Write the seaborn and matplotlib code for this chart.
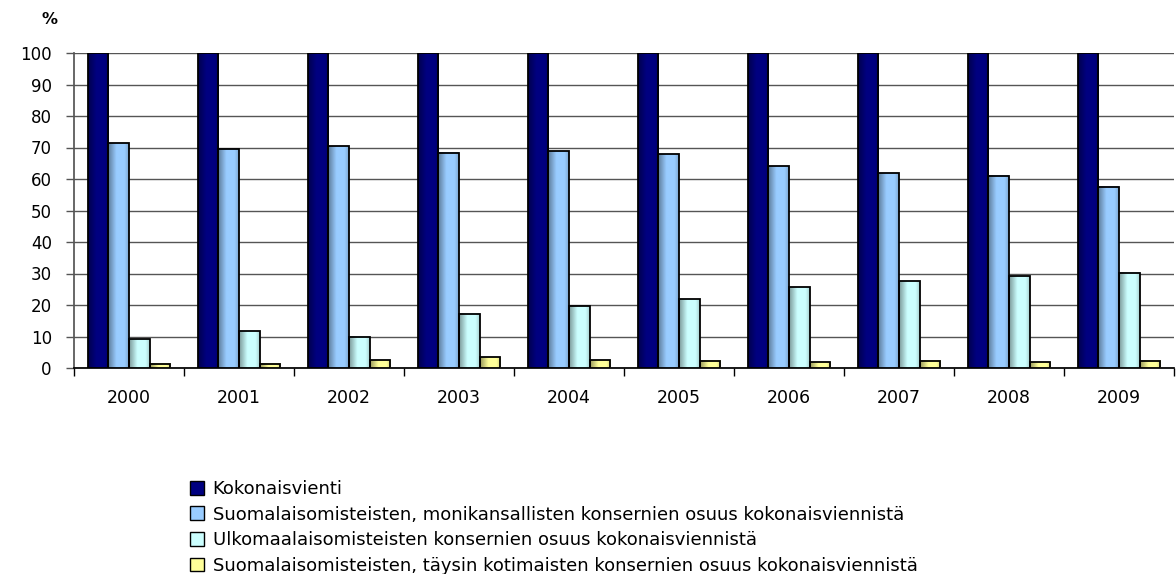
import numpy as np
import pandas as pd
import seaborn as sns
import matplotlib.pyplot as plt
from matplotlib.ticker import FixedLocator
from matplotlib.patches import Patch

years = ["2000", "2001", "2002", "2003", "2004", "2005", "2006", "2007", "2008", "2009"]
series_names = [
    "Kokonaisvienti",
    "Suomalaisomisteisten, monikansallisten konsernien osuus kokonaisviennistä",
    "Ulkomaalaisomisteisten konsernien osuus kokonaisviennistä",
    "Suomalaisomisteisten, täysin kotimaisten konsernien osuus kokonaisviennistä",
]
total = [100, 100, 100, 100, 100, 100, 100, 100, 100, 100]
multinational = [71.3, 69.4, 70.4, 68.4, 68.8, 67.8, 64.0, 61.9, 61.1, 57.5]
foreign = [9.2, 11.6, 10.0, 17.3, 19.6, 21.9, 25.7, 27.6, 29.1, 30.3]
domestic = [1.4, 1.4, 2.4, 3.4, 2.4, 2.3, 1.8, 2.3, 1.8, 2.3]
colors = ["#000080", "#99CCFF", "#CCFFFF", "#FFFF99"]

rows = []
for name, vals in zip(series_names, [total, multinational, foreign, domestic]):
    for y, v in zip(years, vals):
        rows.append({"year": y, "series": name, "value": v})
df = pd.DataFrame(rows)

sns.set_theme(style="white")
plt.rcParams["font.family"] = ["DejaVu Sans"]
plt.rcParams["text.color"] = "black"

fig = plt.figure(figsize=(11.76, 5.74), dpi=100)
ax = fig.add_axes([74 / 1176, (574 - 368) / 574, 1100 / 1176, 315 / 574])

sns.barplot(
    data=df, x="year", y="value", hue="series", order=years, hue_order=series_names,
    palette=colors, width=0.75, saturation=1, edgecolor="black", linewidth=1.3,
    legend=False, ax=ax, zorder=3,
)

# excel-style shading across each bar
shade_x = np.linspace(0, 1, 48)
shade = np.interp(shade_x, [0, 0.4, 0.8, 1], [0.6, 1.0, 1.0, 0.82])
for p in list(ax.patches):
    rgb = np.array(p.get_facecolor()[:3])
    img = np.clip(shade[None, :, None] * rgb[None, None, :], 0, 1)
    x0, w, h = p.get_x(), p.get_width(), p.get_height()
    ax.imshow(img, extent=[x0, x0 + w, 0, h], aspect="auto", zorder=2.9,
              interpolation="bilinear")
    p.set_facecolor("none")

ax.set_ylim(0, 100)
ax.set_xlim(-0.5, len(years) - 0.5)
ax.set_yticks(np.arange(0, 101, 10))
ax.yaxis.grid(True, color="#555555", linewidth=1.0, zorder=0)
ax.xaxis.grid(False)
ax.set_xlabel("")
ax.set_ylabel("")
for s in ["top", "right"]:
    ax.spines[s].set_visible(False)
ax.spines["left"].set_color("#555555")
ax.spines["bottom"].set_color("black")
ax.tick_params(axis="y", which="major", length=6, width=1, color="#555555",
               direction="out", left=True, labelsize=12, pad=10, labelcolor="black")
ax.tick_params(axis="x", which="major", length=0, labelsize=12.5, pad=15, labelcolor="black")
ax.xaxis.set_minor_locator(FixedLocator(np.arange(-0.5, len(years), 1.0)))
ax.tick_params(axis="x", which="minor", length=6, width=1, color="black", direction="out", bottom=True)

fig.text(50 / 1176, 1 - 19 / 574, "%", fontsize=11.5, fontweight="bold", ha="center", va="center")

handles = [Patch(facecolor=c, edgecolor="black", linewidth=1) for c in colors]
leg = fig.legend(
    handles, series_names, loc="upper left", bbox_to_anchor=(190 / 1176, 1 - 480 / 574),
    frameon=False, fontsize=13, handlelength=0.8, handleheight=0.8,
    handletextpad=0.45, labelspacing=0.42, borderaxespad=0, borderpad=0,
)
for t in leg.get_texts():
    t.set_color("black")

fig.savefig("out.png", dpi=100)
